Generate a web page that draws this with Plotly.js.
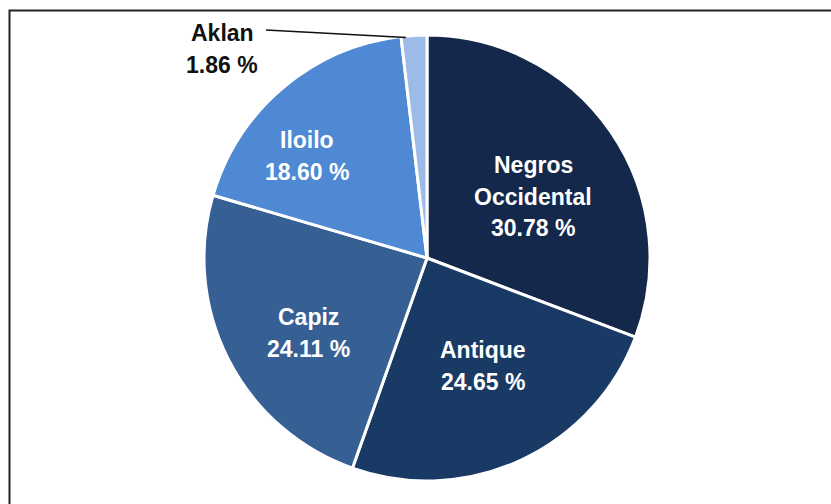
<!DOCTYPE html>
<html>
<head>
<meta charset="utf-8">
<script src="https://cdn.plot.ly/plotly-3.0.1.min.js"></script>
<style>html,body{margin:0;padding:0;background:#fff;}#chart{width:831px;height:504px;}</style>
</head>
<body>
<div id="chart"></div>
<script>
// Data
var provinces = ["Negros Occidental", "Antique", "Capiz", "Iloilo", "Aklan"];
var shares = [30.78, 24.65, 24.11, 18.60, 1.86];
var sliceColors = ["#13284a", "#1a3a66", "#365f94", "#4f88d3", "#9dbbe8"];

var W = 831, H = 504;
var cx = 427, cy = 258, R = 223;

// label block centres (pixels) and text colours - layout only
var labelPos = [[533, 197], [483, 366], [308, 333], [307, 156], [222, 49]];
var labelColor = ["#ffffff", "#ffffff", "#ffffff", "#ffffff", "#111111"];
var lineGap = 31.5;

var trace = {
  type: "pie",
  labels: provinces,
  values: shares,
  sort: false,
  direction: "clockwise",
  rotation: 0,
  marker: { colors: sliceColors, line: { color: "#ffffff", width: 3 } },
  textinfo: "none",
  hoverinfo: "label+percent",
  showlegend: false,
  domain: { x: [(cx - R) / W, (cx + R) / W], y: [1 - (cy + R) / H, 1 - (cy - R) / H] }
};

var annotations = [];
provinces.forEach(function (p, i) {
  var lines = (p === "Negros Occidental" ? ["Negros", "Occidental"] : [p]);
  lines.push(shares[i].toFixed(2) + " %");
  var n = lines.length;
  lines.forEach(function (t, k) {
    var py = labelPos[i][1] + (k - (n - 1) / 2) * lineGap;
    annotations.push({
      xref: "paper", yref: "paper",
      x: labelPos[i][0] / W, y: 1 - py / H,
      xanchor: "center", yanchor: "middle",
      text: "<b>" + t + "</b>",
      showarrow: false,
      font: { family: "Liberation Sans, Arial, sans-serif", size: 23, color: labelColor[i] }
    });
  });
});

var layout = {
  width: W, height: H,
  margin: { l: 0, r: 0, t: 0, b: 0 },
  paper_bgcolor: "#ffffff",
  showlegend: false,
  annotations: annotations,
  shapes: [
    { type: "rect", xref: "paper", yref: "paper", x0: 9.5 / W, x1: 1.02, y0: -0.02, y1: 1 - 10.5 / H,
      line: { color: "#222222", width: 2 }, fillcolor: "rgba(0,0,0,0)" },
    { type: "line", xref: "paper", yref: "paper", x0: 266 / W, y0: 1 - 30 / H, x1: 406 / W, y1: 1 - 37.5 / H,
      line: { color: "#111111", width: 1.5 } }
  ]
};

Plotly.newPlot("chart", [trace], layout, { displayModeBar: false, staticPlot: true });
</script>
</body>
</html>
